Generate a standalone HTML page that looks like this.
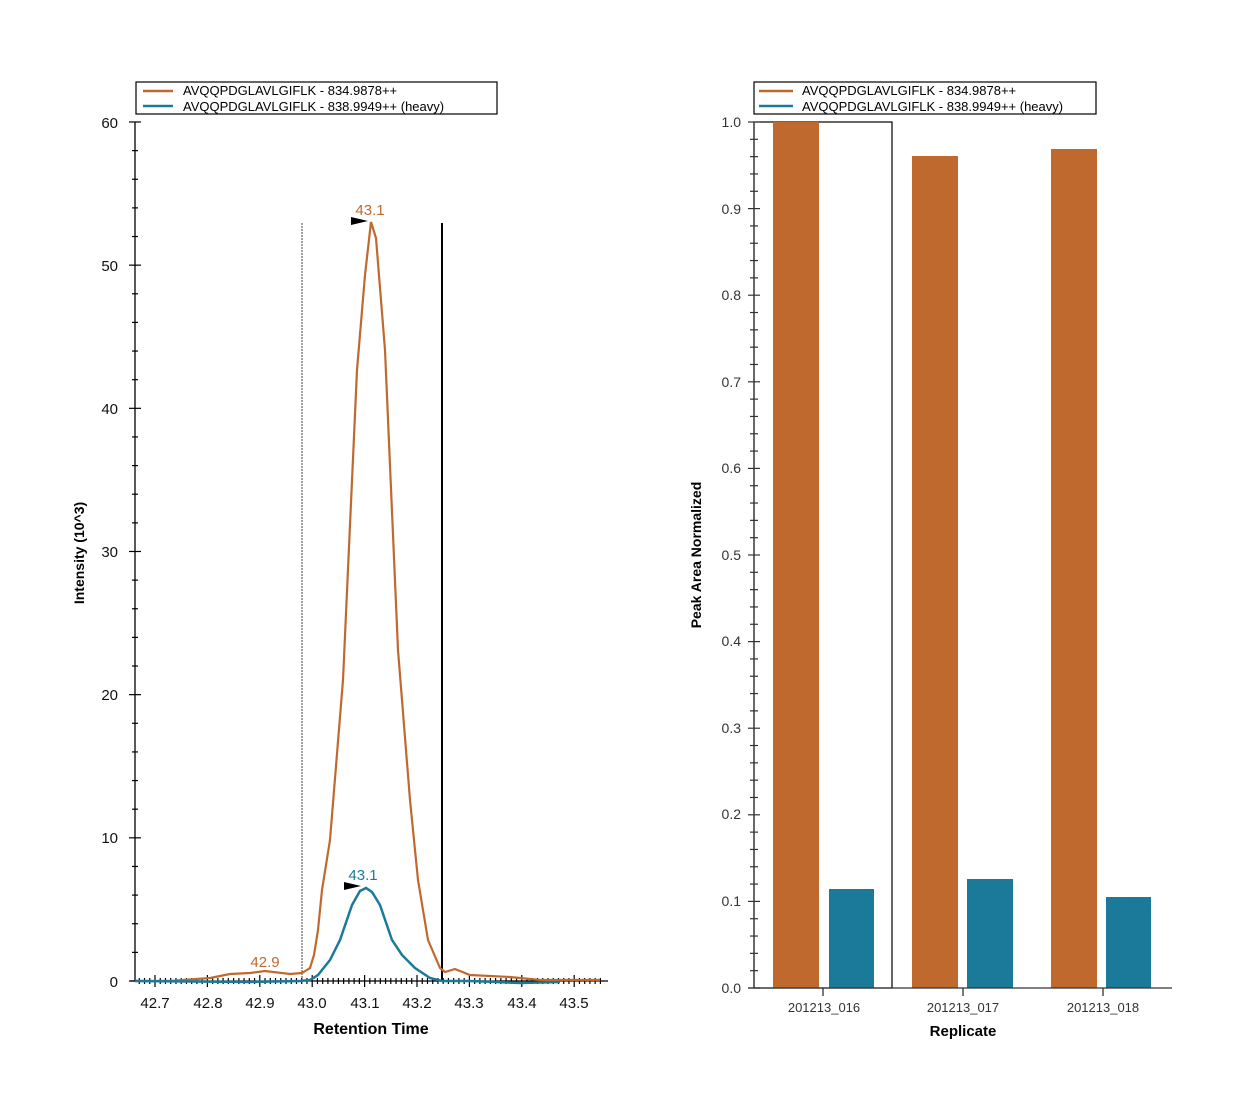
<!DOCTYPE html>
<html><head><style>body{margin:0;background:#fff}svg{display:block}text{font-family:"Liberation Sans",sans-serif}</style></head><body>
<svg width="1260" height="1114" viewBox="0 0 1260 1114" xmlns="http://www.w3.org/2000/svg">
<rect width="1260" height="1114" fill="#fff"/>
<!-- LEFT CHART -->
<g stroke="#000" stroke-width="1.3" fill="none">
<line x1="135" y1="122" x2="135" y2="981"/>
<line x1="130" y1="981" x2="608" y2="981"/>
</g>
<g id="ly" stroke="#000" stroke-width="1.2"></g>
<g id="lx" stroke="#000" stroke-width="1.2"></g>
<g font-size="15" text-anchor="end" fill="#111">
<text x="118" y="128">60</text><text x="118" y="271">50</text><text x="118" y="414">40</text><text x="118" y="557">30</text><text x="118" y="700">20</text><text x="118" y="843">10</text><text x="118" y="987">0</text>
</g>
<g font-size="15" text-anchor="middle" fill="#111">
<text x="155" y="1008">42.7</text><text x="208" y="1008">42.8</text><text x="260" y="1008">42.9</text><text x="312" y="1008">43.0</text><text x="365" y="1008">43.1</text><text x="417" y="1008">43.2</text><text x="469" y="1008">43.3</text><text x="522" y="1008">43.4</text><text x="574" y="1008">43.5</text>
</g>
<text x="371" y="1034" font-size="16" font-weight="bold" text-anchor="middle">Retention Time</text>
<text transform="translate(84,553) rotate(-90)" font-size="14" font-weight="bold" text-anchor="middle">Intensity (10^3)</text>
<line x1="302" y1="223" x2="302" y2="981" stroke="#444" stroke-width="1" stroke-dasharray="2,1"/>
<line x1="442" y1="223" x2="442" y2="981" stroke="#000" stroke-width="2"/>
<polyline fill="none" stroke="#c0692f" stroke-width="2.2" points="135,981 170,981 210,978 230,974 250,973 265,971 290,974 302,973 310,968 314,955 318,930 322,890 330,840 343,680 357,370 365,275 371,222 376,238 385,350 398,650 410,800 418,880 428,940 440,968 445,972 455,969 470,975 510,977 540,980 600,980"/>
<polyline fill="none" stroke="#1b7a9a" stroke-width="2.5" points="135,981 250,982 300,981 310,980 318,975 330,960 340,940 352,905 360,891 366,888 372,892 380,905 392,940 402,955 415,968 430,978 442,981 470,981 520,983 560,982"/>
<text x="370" y="215" font-size="15" fill="#c0692f" text-anchor="middle">43.1</text>
<polygon points="351,217 368,221 351,225" fill="#000"/>
<text x="363" y="880" font-size="15" fill="#1b7a9a" text-anchor="middle">43.1</text>
<polygon points="344,882 361,886 344,890" fill="#000"/>
<text x="265" y="967" font-size="15" fill="#c0692f" text-anchor="middle">42.9</text>
<rect x="136" y="82" width="361" height="32" fill="#fff" stroke="#000" stroke-width="1.2"/>
<line x1="143" y1="91" x2="173" y2="91" stroke="#c0692f" stroke-width="2.5"/>
<line x1="143" y1="106" x2="173" y2="106" stroke="#1b7a9a" stroke-width="2.5"/>
<text x="183" y="95" font-size="13">AVQQPDGLAVLGIFLK - 834.9878++</text>
<text x="183" y="111" font-size="13">AVQQPDGLAVLGIFLK - 838.9949++ (heavy)</text>
<!-- RIGHT CHART -->
<rect x="754" y="122" width="138" height="866" fill="none" stroke="#000" stroke-width="1.2"/>
<g fill="#c0692f"><rect x="773" y="122" width="46" height="866"/><rect x="912" y="156" width="46" height="832"/><rect x="1051" y="149" width="46" height="839"/></g>
<g fill="#1b7a9a"><rect x="829" y="889" width="45" height="99"/><rect x="967" y="879" width="46" height="109"/><rect x="1106" y="897" width="45" height="91"/></g>
<g stroke="#333" stroke-width="1.3"><line x1="754" y1="122" x2="754" y2="988"/><line x1="748" y1="988" x2="1172" y2="988"/>
<line x1="823" y1="988" x2="823" y2="996"/><line x1="963" y1="988" x2="963" y2="996"/><line x1="1103" y1="988" x2="1103" y2="996"/></g>
<g id="ry" stroke="#333" stroke-width="1.2"></g>
<g font-size="14" text-anchor="end" fill="#333">
<text x="741" y="127">1.0</text><text x="741" y="214">0.9</text><text x="741" y="300">0.8</text><text x="741" y="387">0.7</text><text x="741" y="473">0.6</text><text x="741" y="560">0.5</text><text x="741" y="646">0.4</text><text x="741" y="733">0.3</text><text x="741" y="819">0.2</text><text x="741" y="906">0.1</text><text x="741" y="993">0.0</text>
</g>
<g font-size="13" text-anchor="middle" fill="#333"><text x="824" y="1012">201213_016</text><text x="963" y="1012">201213_017</text><text x="1103" y="1012">201213_018</text></g>
<text x="963" y="1036" font-size="15" font-weight="bold" text-anchor="middle">Replicate</text>
<text transform="translate(701,555) rotate(-90)" font-size="14" font-weight="bold" text-anchor="middle">Peak Area Normalized</text>
<rect x="754" y="82" width="342" height="32" fill="#fff" stroke="#000" stroke-width="1.2"/>
<line x1="759" y1="91" x2="793" y2="91" stroke="#c0692f" stroke-width="2.5"/>
<line x1="759" y1="106" x2="793" y2="106" stroke="#1b7a9a" stroke-width="2.5"/>
<text x="802" y="95" font-size="13">AVQQPDGLAVLGIFLK - 834.9878++</text>
<text x="802" y="111" font-size="13">AVQQPDGLAVLGIFLK - 838.9949++ (heavy)</text>
</svg>
<script>
var ns="http://www.w3.org/2000/svg";
function L(g,x1,y1,x2,y2){var l=document.createElementNS(ns,"line");l.setAttribute("x1",x1);l.setAttribute("y1",y1);l.setAttribute("x2",x2);l.setAttribute("y2",y2);document.getElementById(g).appendChild(l);}
for(var i=0;i<=30;i++){var y=981-i*2*14.317;L("ly",i%5==0?129:132,y,i%5==0?141:138,y);}
for(var t=0;t<=18;t++){var x=134.1+t*10.48*5*0.4;}
for(var k=-4;k<=85;k++){var x=155+k*5.24;if(x<135||x>606)continue;var maj=(k%10==0);L("lx",x,maj?975:978,x,maj?987:984);}
for(var j=0;j<=50;j++){var y=988-j*17.32;var maj=(j%5==0);L("ry",maj?748:750,y,maj?760:758,y);}
</script>
</body></html>
